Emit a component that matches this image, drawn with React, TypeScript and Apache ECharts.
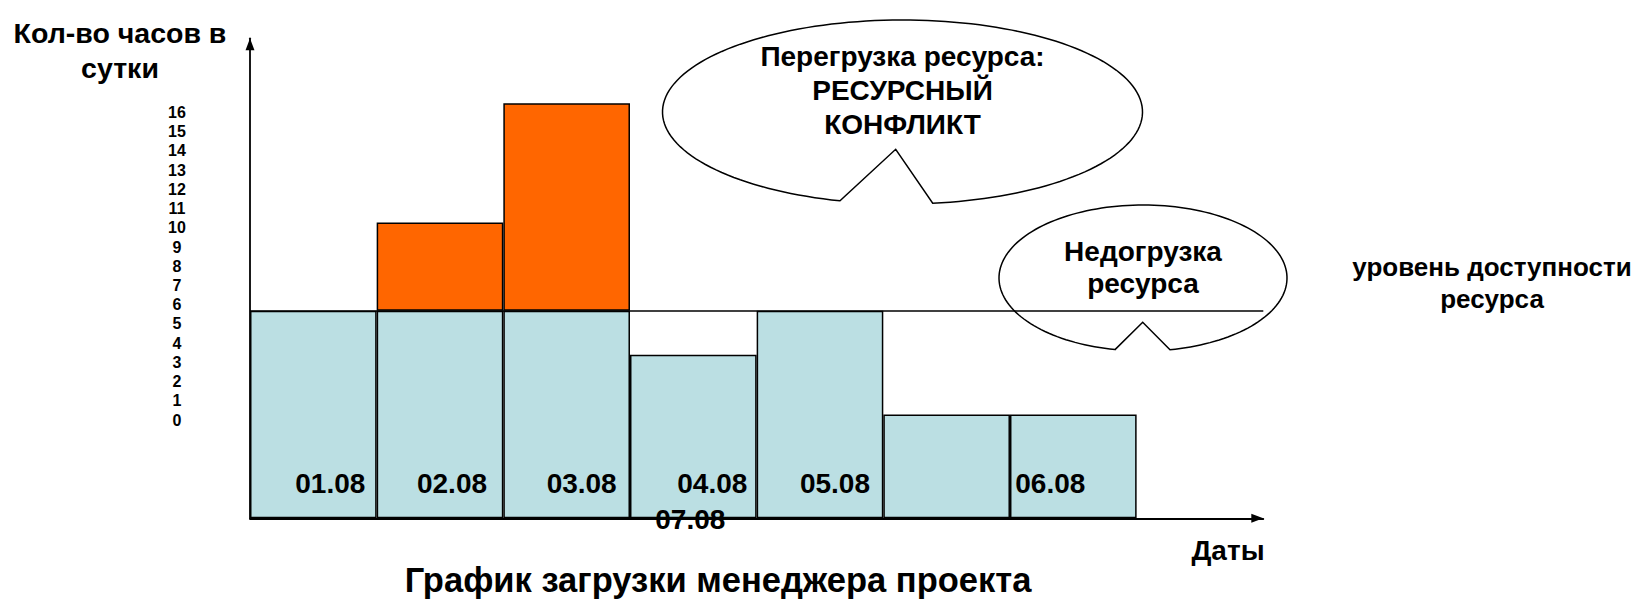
import React, { useEffect, useRef } from "react";
import * as echarts from "echarts";

// ---- data ----
const daySlots = ["01.08", "02.08", "03.08", "04.08", "05.08", "06.08", "07.08", ""];
const baseHours = [8, 8, 8, 6.3, 8, 4, 4];
const overloadHours = [0, 3.4, 8, 0, 0, 0, 0];
const availabilityLevel = 8;
const dateLabels = ["01.08", "02.08", "03.08", "04.08", "05.08", "06.08", "07.08"];
const dateLabelBar = [0, 1, 2, 3, 4, 6, 3];
const hourTickMin = 0;
const hourTickMax = 16;

const yTitle = "Кол-во часов в\nсутки";
const xTitle = "Даты";
const chartTitle = "График загрузки менеджера проекта";
const overloadNote = "Перегрузка ресурса:\nРЕСУРСНЫЙ\nКОНФЛИКТ";
const underloadNote = "Недогрузка\nресурса";
const levelNote = "уровень доступности\nресурса";

const FONT = '"Liberation Sans", Arial, Helvetica, sans-serif';

function calloutPoints(cx: number, cy: number, rx: number, ry: number, x1: number, x2: number, apex: number[]) {
  const t1 = Math.acos((x1 - cx) / rx);
  const t2 = Math.acos((x2 - cx) / rx) + 2 * Math.PI;
  const pts: number[][] = [];
  const n = 160;
  for (let i = 0; i <= n; i++) {
    const t = t1 + ((t2 - t1) * i) / n;
    pts.push([cx + rx * Math.cos(t), cy + ry * Math.sin(t)]);
  }
  pts.push(apex);
  return pts;
}

function txt(text: string, x: number, y: number, size: number, lineHeight: number) {
  return {
    type: "text",
    x,
    y,
    z: 20,
    style: {
      text,
      fill: "#000",
      fontSize: size,
      fontWeight: "bold",
      fontFamily: FONT,
      align: "center",
      textAlign: "center",
      verticalAlign: "middle",
      textVerticalAlign: "middle",
      lineHeight,
    },
  };
}

export default function App() {
  const ref = useRef<HTMLDivElement>(null);
  useEffect(() => {
    if (!ref.current) return;
    const chart = echarts.init(ref.current, null, { renderer: "svg" });

    const labelOffsets = [
      [17, -35], [12, -35], [15, -35], [19, -35], [15, -35], [-23, -35], [-3, 1],
    ];

    const axisLineCommon = {
      show: true,
      symbol: ["none", "triangle"],
      symbolSize: [9, 12],
      symbolOffset: [0, -6],
      lineStyle: { color: "#000", width: 1.8 },
    };

    const option: any = {
      animation: false,
      backgroundColor: "#fff",
      grid: [
        { left: 250, right: 384.7, top: 38.3, bottom: 82.7 },
        { left: 250, right: 384.7, top: 112.5, bottom: 181 },
      ],
      xAxis: [
        {
          type: "category",
          gridIndex: 0,
          data: daySlots,
          boundaryGap: true,
          axisLine: axisLineCommon,
          axisTick: { show: false },
          axisLabel: { show: false },
          splitLine: { show: false },
        },
        { type: "value", gridIndex: 1, show: false, min: 0, max: 1 },
      ],
      yAxis: [
        {
          type: "value",
          gridIndex: 0,
          min: 0,
          max: 18.5,
          axisLine: axisLineCommon,
          axisTick: { show: false },
          axisLabel: { show: false },
          splitLine: { show: false },
        },
        {
          type: "value",
          gridIndex: 1,
          min: hourTickMin,
          max: hourTickMax,
          interval: 1,
          axisLine: { show: false },
          axisTick: { show: false },
          splitLine: { show: false },
          axisLabel: {
            show: true,
            color: "#000",
            fontSize: 16,
            fontWeight: "bold",
            fontFamily: FONT,
            align: "center",
            margin: 73,
          },
        },
      ],
      series: [
        {
          type: "bar",
          name: "base",
          stack: "hours",
          xAxisIndex: 0,
          yAxisIndex: 0,
          barWidth: "100%",
          barCategoryGap: "0%",
          data: baseHours,
          itemStyle: { color: "#BBDFE3", borderColor: "#000", borderWidth: 1.5 },
          markLine: {
            silent: true,
            symbol: ["none", "none"],
            label: { show: false },
            lineStyle: { color: "#000", width: 1.5, type: "solid" },
            data: [{ yAxis: availabilityLevel }],
          },
          z: 3,
        },
        {
          type: "bar",
          name: "overload",
          stack: "hours",
          xAxisIndex: 0,
          yAxisIndex: 0,
          barWidth: "100%",
          barCategoryGap: "0%",
          data: overloadHours.map((v) => (v > 0 ? v : "-")),
          itemStyle: { color: "#FF6600", borderColor: "#000", borderWidth: 1.5 },
          z: 3,
        },
        {
          type: "scatter",
          xAxisIndex: 0,
          yAxisIndex: 0,
          symbolSize: 0,
          clip: false,
          silent: true,
          z: 6,
          itemStyle: { opacity: 1 },
          data: dateLabels.map((name, i) => ({
            value: [dateLabelBar[i], 0],
            name,
            label: { offset: labelOffsets[i] },
          })),
          label: {
            show: true,
            position: "inside",
            formatter: (p: any) => p.name,
            color: "#000",
            opacity: 1,
            fontSize: 28,
            fontWeight: "bold",
            fontFamily: FONT,
          },
        },
      ],
      graphic: [
        {
          type: "polygon",
          z: 0,
          shape: { points: calloutPoints(902.5, 112, 240, 92, 840, 932.7, [895.7, 149.3]) },
          style: { fill: "#fff", stroke: "#000", lineWidth: 1.5 },
        },
        {
          type: "polygon",
          z: 0,
          shape: { points: calloutPoints(1143, 278, 144, 73, 1115, 1170, [1142.7, 322.3]) },
          style: { fill: "#fff", stroke: "#000", lineWidth: 1.5 },
        },
        txt(yTitle, 120, 50, 28.5, 35),
        txt(overloadNote, 902.5, 90.7, 28, 34.2),
        txt(underloadNote, 1143, 267.6, 28, 32),
        txt(levelNote, 1492, 283, 26, 32.5),
        txt(xTitle, 1228, 550, 28, 34),
        txt(chartTitle, 718, 580, 34.5, 40),
      ],
    };
    chart.setOption(option);
    return () => chart.dispose();
  }, []);
  return (
    <div
      ref={ref}
      style={{ position: "fixed", left: 0, top: 0, width: 1648, height: 601, background: "#fff" }}
    />
  );
}
